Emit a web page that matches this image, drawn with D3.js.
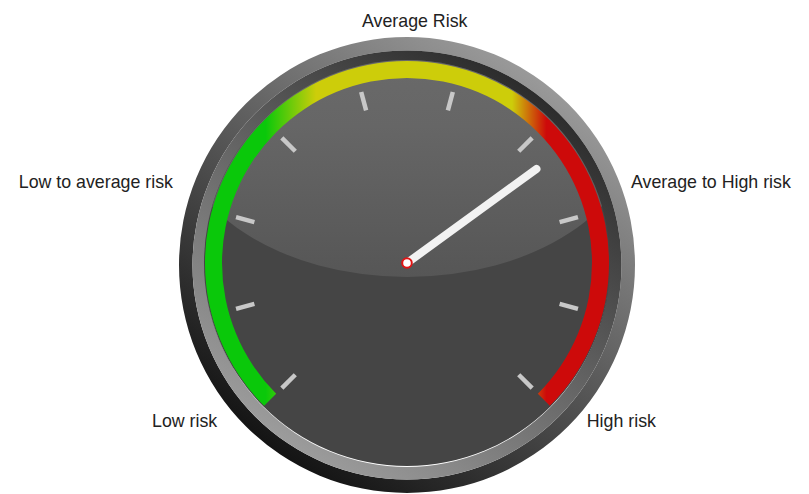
<!DOCTYPE html>
<html>
<head>
<meta charset="utf-8">
<script src="https://cdn.jsdelivr.net/npm/d3@7/dist/d3.min.js"></script>
<style>
  html, body { margin: 0; padding: 0; background: #ffffff; }
  svg { display: block; }
</style>
</head>
<body>
<div id="chart"></div>
<script>
// ---- data ----
const scaleDomain = [0, 90];                       // gauge scale
const tickValues = [0, 10, 20, 30, 40, 50, 60, 70, 80, 90];
const needleValue = 63;
const labelTexts = ["Low risk", "Low to average risk", "Average Risk", "Average to High risk", "High risk"];
const labelValues = [1.5, 21.5, 46, 68.5, 88.5];
const bandColors = ["#0ac80a", "#0ac80a", "#cdcd0a", "#cdcd0a", "#cd0a0a", "#cd0a0a"];
const bandOffsets = [0, 0.15, 0.275, 0.76, 0.845, 1];

// ---- layout ----
const W = 809, H = 494;
const cx = 407, cy = 263;
const deg = Math.PI / 180;

const angle = d3.scaleLinear().domain(scaleDomain).range([-135, 135]);

const svg = d3.select("#chart").append("svg").attr("width", W).attr("height", H);
const defs = svg.append("defs");

function lg(id, x1, y1, x2, y2, stops, units) {
  const g = defs.append("linearGradient").attr("id", id)
    .attr("x1", x1).attr("y1", y1).attr("x2", x2).attr("y2", y2);
  if (units) g.attr("gradientUnits", units);
  stops.forEach(s => g.append("stop").attr("offset", s[0]).attr("stop-color", s[1]));
  return g;
}
lg("ring1", 0.85, 0, 0.15, 1, [[0, "#a8a8a8"], [1, "#050505"]]);
lg("ring2", 0.85, 0, 0.15, 1, [[0, "#202020"], [1, "#a8a8a8"]]);
lg("gloss", 0, 0, 0, 1, [[0, "#6e6e6e"], [0.5, "#666666"], [1, "#565656"]]);

const bandOuter = 202, bandInner = 185;
lg("band", cx - bandOuter, 0, cx + bandOuter, 0,
   bandOffsets.map((o, i) => [o, bandColors[i]]), "userSpaceOnUse");

defs.append("clipPath").attr("id", "faceClip")
  .append("circle").attr("cx", cx).attr("cy", cy).attr("r", 203);

// bezel rings
const full = d3.arc().startAngle(0).endAngle(2 * Math.PI);
const bezel = svg.append("g").attr("transform", `translate(${cx},${cy + 2})`);
bezel.append("path").attr("d", full({innerRadius: 214.5, outerRadius: 228})).attr("fill", "url(#ring1)");
bezel.append("path").attr("d", full({innerRadius: 202, outerRadius: 214.5})).attr("fill", "url(#ring2)");

// face
svg.append("circle").attr("cx", cx).attr("cy", cy).attr("r", 203).attr("fill", "#454545");
svg.append("ellipse").attr("clip-path", "url(#faceClip)")
  .attr("cx", cx).attr("cy", cy - 137).attr("rx", 230).attr("ry", 151)
  .attr("fill", "url(#gloss)");

const g = svg.append("g").attr("transform", `translate(${cx},${cy})`);

// colour band (gradient defined in page coordinates, shifted into group space)
d3.select("#band").attr("gradientTransform", `translate(${-cx},0)`);
g.append("path")
  .attr("d", d3.arc()({
    innerRadius: bandInner, outerRadius: bandOuter,
    startAngle: angle(scaleDomain[0]) * deg, endAngle: angle(scaleDomain[1]) * deg
  }))
  .attr("fill", "url(#band)");

// ticks
const tickIn = 158, tickOut = 177;
g.selectAll("line.tick").data(tickValues).join("line")
  .attr("class", "tick")
  .attr("x1", d => tickIn * Math.sin(angle(d) * deg))
  .attr("y1", d => -tickIn * Math.cos(angle(d) * deg))
  .attr("x2", d => tickOut * Math.sin(angle(d) * deg))
  .attr("y2", d => -tickOut * Math.cos(angle(d) * deg))
  .attr("stroke", "#c8c8c8").attr("stroke-width", 4.5);

// needle
const needleLen = 160;
g.append("line")
  .attr("x1", 0).attr("y1", 0)
  .attr("x2", needleLen * Math.sin(angle(needleValue) * deg))
  .attr("y2", -needleLen * Math.cos(angle(needleValue) * deg))
  .attr("stroke", "#f2f2f2").attr("stroke-width", 8).attr("stroke-linecap", "round");
g.append("circle").attr("r", 4.8).attr("fill", "#ffffff")
  .attr("stroke", "#e01515").attr("stroke-width", 2);

// labels
const labelR = 243, labelShift = -5;
svg.append("g").selectAll("text").data(labelTexts).join("text")
  .attr("x", (d, i) => cx + labelShift + labelR * Math.sin(angle(labelValues[i]) * deg))
  .attr("y", (d, i) => cy - labelR * Math.cos(angle(labelValues[i]) * deg))
  .attr("dy", "0.35em")
  .attr("text-anchor", (d, i) => {
    const a = angle(labelValues[i]);
    return Math.abs(a) < 10 ? "middle" : (a < 0 ? "end" : "start");
  })
  .attr("font-family", "'Liberation Sans', Arial, sans-serif")
  .attr("font-size", "17.8px")
  .attr("fill", "#222222")
  .text(d => d);
</script>
</body>
</html>
